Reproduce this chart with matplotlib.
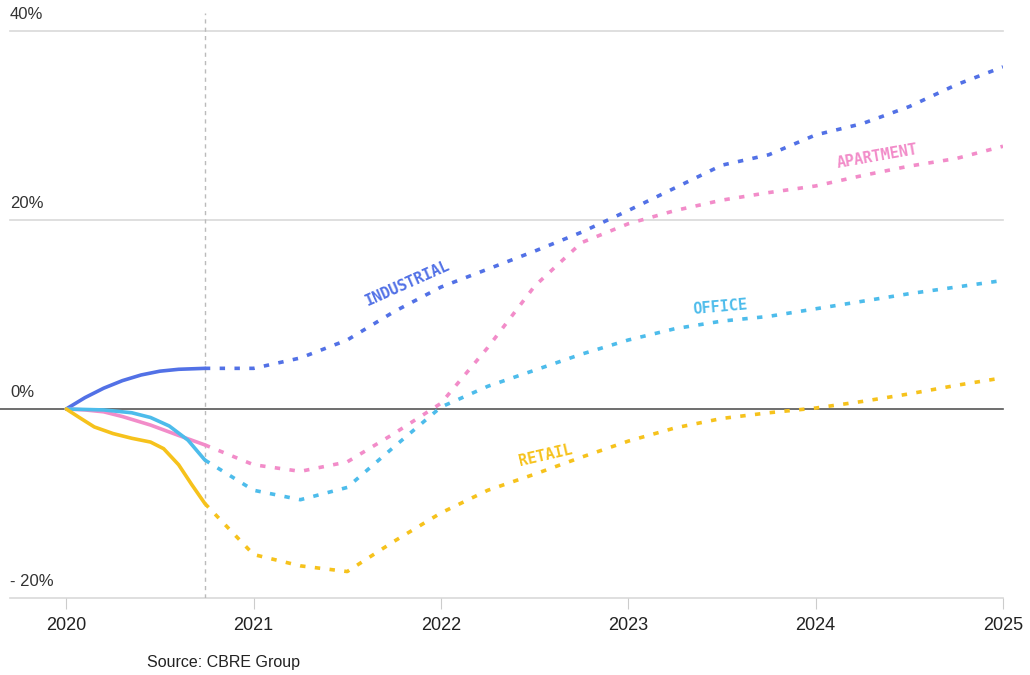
import matplotlib.pyplot as plt

plt.rcParams["font.family"] = ["Liberation Sans", "DejaVu Sans"]

# actual (solid) part, up to Q3 2020
ind_x = [2020.0, 2020.1, 2020.2, 2020.3, 2020.4, 2020.5, 2020.6, 2020.74]
ind_y = [0.0, 1.2, 2.2, 3.0, 3.6, 4.0, 4.2, 4.3]
apt_x = [2020.0, 2020.1, 2020.2, 2020.3, 2020.45, 2020.6, 2020.74]
apt_y = [0.0, -0.1, -0.3, -0.8, -1.7, -2.8, -3.8]
off_x = [2020.0, 2020.2, 2020.35, 2020.45, 2020.55, 2020.65, 2020.74]
off_y = [0.0, -0.1, -0.4, -0.9, -1.8, -3.3, -5.4]
ret_x = [2020.0, 2020.07, 2020.15, 2020.25, 2020.35, 2020.45, 2020.52, 2020.6, 2020.67, 2020.74]
ret_y = [0.0, -0.9, -1.9, -2.6, -3.1, -3.5, -4.2, -5.9, -8.0, -10.0]

# forecast (dotted) part
f_x = [2020.74, 2021.0, 2021.25, 2021.5, 2021.75, 2022.0, 2022.25, 2022.5, 2022.75,
       2023.0, 2023.25, 2023.5, 2023.75, 2024.0, 2024.25, 2024.5, 2024.75, 2025.0]
ind_f = [4.3, 4.3, 5.4, 7.3, 10.3, 12.9, 14.8, 16.7, 18.7,
         21.0, 23.4, 25.8, 26.9, 29.0, 30.2, 32.0, 34.3, 36.2]
apt_f = [-3.8, -5.9, -6.6, -5.6, -2.6, 0.6, 6.5, 13.0, 17.6,
         19.6, 21.0, 22.1, 22.9, 23.6, 24.7, 25.7, 26.5, 27.8]
off_f = [-5.4, -8.6, -9.6, -8.3, -4.0, 0.2, 2.4, 4.1, 5.8,
         7.3, 8.5, 9.3, 9.8, 10.6, 11.4, 12.2, 12.9, 13.6]
ret_f = [-10.0, -15.4, -16.6, -17.2, -14.0, -11.0, -8.6, -6.9, -5.1,
         -3.4, -2.0, -1.0, -0.4, 0.1, 0.8, 1.6, 2.5, 3.3]

labels = ["INDUSTRIAL", "APARTMENT", "OFFICE", "RETAIL"]
colors = ["#5271E6", "#F28CC9", "#4DBCEB", "#F6C21C"]
yticks = [40, 20, 0, -20]
ytick_labels = ["40%", "20%", "0%", "- 20%"]
years = [2020, 2021, 2022, 2023, 2024, 2025]

fig = plt.figure(figsize=(10.3, 6.75), dpi=100)
ax = fig.add_axes([10 / 1030, 1 - 598 / 675, 993 / 1030, 585 / 675])
ax.set_xlim(2019.70, 2025.0)
ax.set_ylim(-20, 41.9)

for v in [40, 20, -20]:
    ax.axhline(v, color="#d9d9d9", lw=1.2, zorder=1, clip_on=False)
ax.plot([2019.6, 2025.0], [0, 0], color="#555555", lw=1.2, zorder=2, clip_on=False)
ax.axvline(2020.74, color="#bbbbbb", lw=1, ls=(0, (3, 3)), zorder=1)

solid = [(ind_x, ind_y), (apt_x, apt_y), (off_x, off_y), (ret_x, ret_y)]
fore = [ind_f, apt_f, off_f, ret_f]
for (sx, sy), fy, c in zip(solid, fore, colors):
    ax.plot(sx, sy, color=c, lw=2.6, solid_capstyle="round", solid_joinstyle="round", zorder=3)
    ax.plot(f_x, fy, color=c, lw=2.6, ls=(0, (1.5, 2.6)), dash_capstyle="butt", zorder=3)

# series labels
ax.text(2021.82, 13.3, labels[0], color=colors[0], fontsize=11, family="DejaVu Sans Mono",
        fontweight="bold", rotation=24, ha="center", va="center")
ax.text(2024.33, 26.7, labels[1], color=colors[1], fontsize=11, family="DejaVu Sans Mono",
        fontweight="bold", rotation=10, ha="center", va="center")
ax.text(2023.49, 10.8, labels[2], color=colors[2], fontsize=11, family="DejaVu Sans Mono",
        fontweight="bold", rotation=5, ha="center", va="center")
ax.text(2022.56, -4.9, labels[3], color=colors[3], fontsize=11, family="DejaVu Sans Mono",
        fontweight="bold", rotation=13, ha="center", va="center")

for v, t in zip(yticks, ytick_labels):
    ax.text(2019.70, v + 0.9, t, fontsize=12, color="#333333", ha="left", va="bottom")

ax.set_yticks([])
ax.set_xticks(years)
ax.set_xticklabels([str(y) for y in years], fontsize=13, color="#222222")
ax.tick_params(axis="x", length=8, color="#cccccc", pad=6)
for s in ["top", "right", "left", "bottom"]:
    ax.spines[s].set_visible(False)

fig.text(147 / 1030, 1 - 663 / 675, "Source: CBRE Group", fontsize=11.5, color="#222222",
         ha="left", va="center")

fig.savefig("out.png", dpi=100)
